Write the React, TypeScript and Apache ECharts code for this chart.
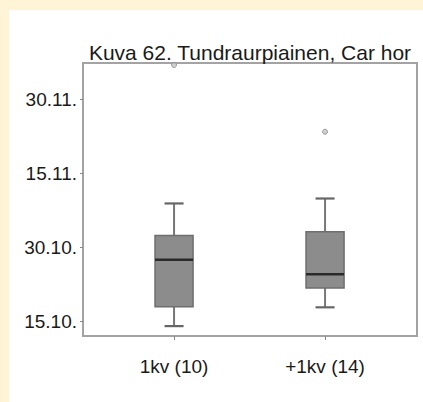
import React, { useEffect, useRef } from "react";
import * as echarts from "echarts";

// Data (days relative to 15.10.; ticks equally spaced every 15 units)
const groups = ["1kv (10)", "+1kv (14)"];
const groupPos = [1, 2];
const mins = [-0.9, 2.9];
const q1s = [3.0, 6.8];
const medians = [12.5, 9.6];
const q3s = [17.4, 18.2];
const maxs = [23.9, 24.9];
const outliers: [number, number][] = [
  [1, 51.9],
  [2, 38.4],
];
const yTickValues = [0, 15, 30, 45];
const yTickLabels = ["15.10.", "30.10.", "15.11.", "30.11."];
const title = "Kuva 62. Tundraurpiainen, Car hor";

export default function App() {
  const ref = useRef<HTMLDivElement>(null);
  useEffect(() => {
    if (!ref.current) return;
    const chart = echarts.init(ref.current, null, { renderer: "svg" });
    const boxData = groupPos.map((x, i) => [x, mins[i], q1s[i], medians[i], q3s[i], maxs[i]]);
    const font = "'Liberation Sans', Arial, sans-serif";
    chart.setOption({
      animation: false,
      grid: {
        left: 83,
        top: 63,
        right: 6,
        bottom: 66,
        show: true,
        borderColor: "#a3a3a3",
        borderWidth: 2,
        backgroundColor: "#ffffff",
      },
      graphic: [
        {
          type: "text",
          x: 250,
          y: 52,
          style: {
            text: title,
            fontFamily: font,
            fontSize: 21,
            fill: "#1a1a1a",
            align: "center",
            verticalAlign: "middle",
          },
        },
      ],
      xAxis: {
        type: "value",
        min: 0.397,
        max: 2.609,
        splitLine: { show: false },
        axisLine: { show: true, onZero: false, lineStyle: { color: "#a3a3a3", width: 2 } },
        axisTick: { show: true, customValues: groupPos, length: 4, lineStyle: { color: "#888" } },
        axisLabel: {
          customValues: groupPos,
          formatter: (v: number) => groups[groupPos.indexOf(Math.round(v))] ?? "",
          margin: 21,
          fontFamily: font,
          fontSize: 19,
          color: "#1a1a1a",
        },
      },
      yAxis: {
        type: "value",
        min: -2.9,
        max: 52.3,
        splitLine: { show: false },
        axisLine: { show: true, onZero: false, lineStyle: { color: "#a3a3a3", width: 2 } },
        axisTick: { show: true, customValues: yTickValues, length: 3, lineStyle: { color: "#888" } },
        axisLabel: {
          customValues: yTickValues,
          formatter: (v: number) => yTickLabels[yTickValues.indexOf(Math.round(v))] ?? "",
          margin: 6,
          padding: [0, 0, 4, 0],
          fontFamily: font,
          fontSize: 19,
          color: "#1a1a1a",
        },
      },
      series: [
        {
          type: "custom",
          data: boxData,
          encode: { x: 0, y: [1, 2, 3, 4, 5] },
          renderItem: (params: any, api: any) => {
            const x = api.value(0);
            const pLow = api.coord([x, api.value(1)]);
            const pQ1 = api.coord([x, api.value(2)]);
            const pMed = api.coord([x, api.value(3)]);
            const pQ3 = api.coord([x, api.value(4)]);
            const pHigh = api.coord([x, api.value(5)]);
            const bw = api.size([0.252, 0])[0];
            const cw = api.size([0.126, 0])[0];
            const cx = pMed[0];
            const wStyle = { stroke: "#777", lineWidth: 2 };
            return {
              type: "group",
              children: [
                { type: "line", shape: { x1: cx, y1: pHigh[1], x2: cx, y2: pQ3[1] }, style: wStyle },
                { type: "line", shape: { x1: cx, y1: pLow[1], x2: cx, y2: pQ1[1] }, style: wStyle },
                { type: "line", shape: { x1: cx - cw / 2, y1: pHigh[1], x2: cx + cw / 2, y2: pHigh[1] }, style: { stroke: "#666", lineWidth: 2.2 } },
                { type: "line", shape: { x1: cx - cw / 2, y1: pLow[1], x2: cx + cw / 2, y2: pLow[1] }, style: { stroke: "#666", lineWidth: 2.2 } },
                {
                  type: "rect",
                  shape: { x: cx - bw / 2, y: pQ3[1], width: bw, height: pQ1[1] - pQ3[1] },
                  style: { fill: "#8c8c8c", stroke: "#6e6e6e", lineWidth: 1.5 },
                },
                { type: "line", shape: { x1: cx - bw / 2, y1: pMed[1], x2: cx + bw / 2, y2: pMed[1] }, style: { stroke: "#2a2a2a", lineWidth: 2.5 } },
              ],
            };
          },
        },
        {
          type: "scatter",
          data: outliers,
          symbol: "circle",
          symbolSize: 5,
          itemStyle: { color: "#c4c4c4", borderColor: "#888", borderWidth: 1 },
        },
      ],
    });
    return () => chart.dispose();
  }, []);
  return (
    <div style={{ position: "absolute", left: 0, top: 0, width: 423, height: 402, background: "#fff5d6" }}>
      <div style={{ position: "absolute", left: 9, top: 10, width: 414, height: 392, background: "#ffffff" }} />
      <div ref={ref} style={{ position: "absolute", left: 0, top: 0, width: 423, height: 402 }} />
    </div>
  );
}
